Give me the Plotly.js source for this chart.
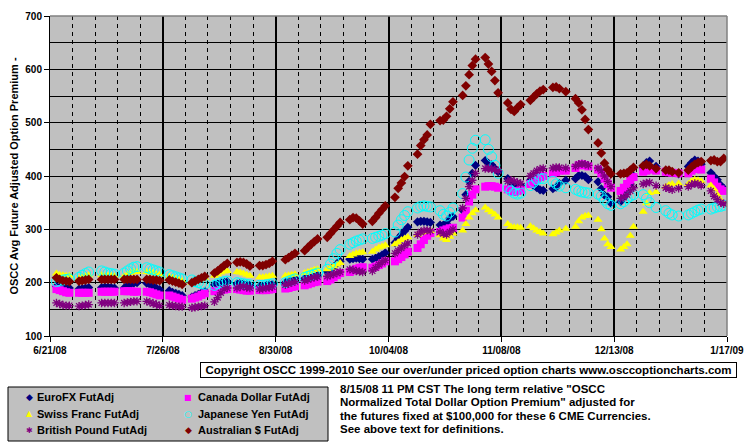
<!DOCTYPE html>
<html>
<head>
<meta charset="utf-8">
<script src="https://cdn.plot.ly/plotly-3.0.1.min.js"></script>
<style>
html,body{margin:0;padding:0;background:#fff;}
#chart{width:755px;height:446px;}
</style>
</head>
<body>
<div id="chart"></div>
<script>
// Trading dates (x values)
const dates = [
'2008-06-23','2008-06-24','2008-06-25','2008-06-26','2008-06-27',
'2008-06-30','2008-07-01','2008-07-02','2008-07-03',
'2008-07-07','2008-07-08','2008-07-09','2008-07-10','2008-07-11',
'2008-07-14','2008-07-15','2008-07-16','2008-07-17','2008-07-18',
'2008-07-21','2008-07-22','2008-07-23','2008-07-24','2008-07-25',
'2008-07-28','2008-07-29','2008-07-30','2008-07-31','2008-08-01',
'2008-08-04','2008-08-05','2008-08-06','2008-08-07','2008-08-08',
'2008-08-11','2008-08-12','2008-08-13','2008-08-14','2008-08-15',
'2008-08-18','2008-08-19','2008-08-20','2008-08-21','2008-08-22',
'2008-08-25','2008-08-26','2008-08-27','2008-08-28','2008-08-29',
'2008-09-02','2008-09-03','2008-09-04','2008-09-05',
'2008-09-08','2008-09-09','2008-09-10','2008-09-11','2008-09-12',
'2008-09-15','2008-09-16','2008-09-17','2008-09-18','2008-09-19',
'2008-09-22','2008-09-23','2008-09-24','2008-09-25','2008-09-26',
'2008-09-29','2008-09-30','2008-10-01','2008-10-02','2008-10-03',
'2008-10-06','2008-10-07','2008-10-08','2008-10-09','2008-10-10',
'2008-10-13','2008-10-14','2008-10-15','2008-10-16','2008-10-17',
'2008-10-20','2008-10-21','2008-10-22','2008-10-23','2008-10-24',
'2008-10-27','2008-10-28','2008-10-29','2008-10-30','2008-10-31',
'2008-11-03','2008-11-04','2008-11-05','2008-11-06','2008-11-07',
'2008-11-10','2008-11-11','2008-11-12','2008-11-13','2008-11-14',
'2008-11-17','2008-11-18','2008-11-19','2008-11-20','2008-11-21',
'2008-11-24','2008-11-25','2008-11-26','2008-11-28',
'2008-12-01','2008-12-02','2008-12-03','2008-12-04','2008-12-05',
'2008-12-08','2008-12-09','2008-12-10','2008-12-11','2008-12-12',
'2008-12-15','2008-12-16','2008-12-17','2008-12-18','2008-12-19',
'2008-12-22','2008-12-23','2008-12-24','2008-12-26',
'2008-12-29','2008-12-30','2008-12-31','2009-01-02',
'2009-01-05','2009-01-06','2009-01-07','2009-01-08','2009-01-09',
'2009-01-12','2009-01-13','2009-01-14','2009-01-15','2009-01-16'
];

const euroFX = [
193,192,191,190,190, 188,189,190,191, 191,192,192,191,190, 190,194,197,199,200, 199,196,193,190,187,
185,182,180,178,176, 173,176,178,181,184, 196,198,200,201,202, 198,199,198,196,195, 193,194,195,196,197,
200,203,206,208, 208,210,212,213,214, 220,225,230,236,240, 244,245,246,245,244, 244,246,249,252,256,
275,283,290,297,304, 314,315,315,314,313, 308,308,311,321,324, 336,365,390,405,420, 429,424,421,414,408,
395,388,385,383,382, 392,382,378,374,373, 376,379,386,392, 395,401,401,399,393, 389,376,364,361,349,
352,360,370,385,400, 415,425,428,418, 410,409,406,404, 418,425,430,428,422, 406,399,393,383,377
];
const canadaDollar = [
188,186,184,182,181, 181,181,181,181, 183,183,183,183,183, 184,184,184,183,183, 183,182,180,178,176,
176,174,172,170,168, 170,172,174,177,180, 184,185,186,187,188, 188,187,186,185,185, 186,186,186,187,188,
189,190,192,193, 195,197,199,201,202, 203,206,210,214,218, 220,223,226,228,229, 228,230,233,236,240,
240,244,248,253,258, 265,272,280,288,293, 295,298,300,302,303, 322,335,352,365,375, 380,381,381,380,378,
375,372,370,372,374, 385,390,395,398,400, 405,407,410,410, 415,420,422,420,418, 412,405,395,385,378,
372,378,385,392,398, 408,410,412,410, 408,407,406,405, 405,410,413,413,412, 395,388,380,375,372
];
const swissFranc = [
217,215,214,213,213, 208,210,212,214, 214,212,213,213,212, 212,215,218,220,220, 220,219,218,216,215,
211,209,207,205,203, 200,203,205,207,209, 213,216,219,221,222, 220,219,217,215,213, 210,210,211,212,213,
213,214,215,216, 218,220,222,224,225, 225,228,231,234,237, 250,253,255,256,257, 258,262,266,268,270,
272,276,280,283,285, 290,293,295,296,297, 289,283,280,286,292, 298,310,322,330,336, 341,336,332,328,322,
310,305,304,304,303, 306,302,298,295,292, 291,294,298,301, 305,315,322,325,326, 318,300,283,272,267,
262,267,272,288,305, 333,349,368,370, 380,383,385,386, 385,390,393,392,390, 382,375,365,355,347
];
const japaneseYen = [
202,203,205,206,207, 210,214,217,220, 222,220,218,217,216, 218,222,226,229,230, 228,226,224,222,220,
215,213,211,209,207, 205,202,200,198,197, 195,198,200,202,203, 200,199,198,197,196, 195,195,196,197,198,
200,203,205,207, 210,212,214,216,218, 225,235,245,255,262, 272,275,278,280,282, 283,285,287,289,292,
295,308,318,326,333, 340,343,344,343,342, 335,328,325,332,340, 367,398,430,452,467, 468,450,436,420,405,
378,372,368,366,368, 382,388,393,395,395, 390,385,381,378, 375,372,370,369,368, 366,362,355,348,345,
348,352,358,362,365, 365,358,350,341, 335,330,327,325, 327,330,333,336,338, 338,340,342,343,345
];
const britishPound = [
162,160,158,157,157, 156,157,158,159, 162,162,162,162,162, 162,163,164,165,165, 165,163,161,159,157,
158,157,156,155,155, 153,154,155,156,157, 164,172,181,188,190, 190,192,193,191,190, 188,189,190,191,192,
196,198,200,202, 204,206,208,210,211, 212,214,216,218,220, 225,224,222,221,220, 222,228,234,238,242,
255,260,265,270,274, 290,295,298,298,297, 295,292,290,295,300, 340,358,380,392,405, 414,414,413,412,410,
390,392,390,388,386, 400,405,410,413,414, 415,416,416,415, 418,422,423,422,420, 415,410,400,390,380,
358,360,365,372,378, 385,387,388,382, 378,376,374,377, 380,384,386,385,382, 372,362,356,350,348
];
const australianDollar = [
209,206,204,203,202, 203,204,205,206, 206,206,206,206,206, 206,206,206,206,206, 206,206,205,205,204,
205,203,201,199,197, 200,203,206,209,212, 218,222,227,232,236, 238,239,238,235,231, 232,232,234,236,240,
243,247,251,255, 260,266,272,277,282, 285,292,299,306,313, 318,322,321,316,310, 315,322,330,337,344,
360,377,387,399,419, 441,457,468,477,497, 504,505,512,526,539, 551,569,590,607,619, 622,610,596,579,556,
537,525,521,528,534, 542,548,554,559,562, 566,567,564,558, 545,537,524,506,487, 462,443,424,412,404,
404,405,406,411,416, 419,422,419,414, 411,411,408,406, 411,417,422,425,427, 429,430,427,427,433
];

const seriesNames = ['EuroFX FutAdj','Canada Dollar FutAdj','Swiss Franc FutAdj','Japanese Yen FutAdj','British Pound FutAdj','Australian $ FutAdj'];
const legendGlyphs = ['\u25C6','\u25A0','\u25B2','\u25CB','\u2731','\u25C6'];
const yTitle = 'OSCC Avg Future Adjusted Option Premium -';
const copyrightText = 'Copyright OSCC 1999-2010 See our over/under priced option charts www.osccoptioncharts.com';
const noteLines = [
  '8/15/08 11 PM CST The long term relative "OSCC',
  'Normalized Total Dollar Option Premium" adjusted for',
  'the futures fixed at $100,000 for these 6 CME Currencies.',
  'See above text for definitions.'
];

const FONT = 'Liberation Sans, Arial, sans-serif';
const DAY = 86400000;
const colors = ['#000080','#FF00FF','#FFFF00','#00FFFF','#800080','#800000'];

const styles = [
  {symbol:'diamond', size:7, color:colors[0], line:{width:0}},
  {symbol:'square', size:8, color:colors[1], line:{width:0}},
  {symbol:'triangle-up', size:8, color:colors[2], line:{width:0}},
  {symbol:'circle-open', size:10, color:colors[3], line:{width:1, color:colors[3]}},
  {symbol:'asterisk-open', size:7, color:colors[4], line:{width:1.3, color:colors[4]}},
  {symbol:'diamond', size:7.5, color:colors[5], line:{width:0}}
];
const values = [euroFX, canadaDollar, swissFranc, japaneseYen, britishPound, australianDollar];

const traces = values.map((v, i) => ({
  type:'scatter', mode:'markers', x: dates, y: v, name: seriesNames[i],
  marker: styles[i], cliponaxis: true, showlegend:false
}));

// pixel -> paper helpers (plot area x 50..727, y 16..336)
const px = p => (p - 50) / 677;
const py = p => (336 - p) / 320;

const noteY = [389, 402.3, 415.7, 429];
const annotations = [
  {text: copyrightText, xref:'paper', yref:'paper', x:px(468.5), y:py(370),
   xanchor:'center', yanchor:'middle', showarrow:false, bordercolor:'#000', borderwidth:1,
   borderpad:1, width:533, height:12, font:{family:FONT, size:11.5, color:'#000', weight:700}}
].concat(noteLines.map((t, i) => ({
  text: t, xref:'paper', yref:'paper', x:px(339), y:py(noteY[i]),
  xanchor:'left', yanchor:'middle', showarrow:false, borderpad:0,
  font:{family:FONT, size:11.5, color:'#000', weight:700}
})));

// legend entries (two columns, three rows)
const legCol = [{m:29, t:36}, {m:188, t:197}];
const legRow = [397, 413.5, 430];
const glyphSize = [9, 8, 8, 9, 8, 9];
seriesNames.forEach((name, i) => {
  const c = legCol[i % 2], r = legRow[Math.floor(i / 2)];
  annotations.push({text: legendGlyphs[i], xref:'paper', yref:'paper', x:px(c.m), y:py(r),
    xanchor:'center', yanchor:'middle', showarrow:false, borderpad:0,
    font:{family:'DejaVu Sans', size:glyphSize[i], color:colors[i]}});
  annotations.push({text: name, xref:'paper', yref:'paper', x:px(c.t), y:py(r),
    xanchor:'left', yanchor:'middle', showarrow:false, borderpad:0,
    font:{family:FONT, size:11, color:'#000', weight:700}});
});

const layout = {
  width:755, height:446,
  margin:{l:50, r:28, t:16, b:110, autoexpand:false},
  paper_bgcolor:'#ffffff', plot_bgcolor:'#C0C0C0',
  font:{family:FONT, color:'#000'},
  showlegend:false,
  xaxis:{type:'date', range:['2008-06-21','2009-01-17'], autorange:false,
    tick0:'2008-06-21', dtick:35*DAY, tickformat:'%-m/%d/%y',
    showgrid:true, gridcolor:'#000', gridwidth:2,
    ticks:'outside', ticklen:5, tickcolor:'#000',
    showline:true, linecolor:'#000', linewidth:1, zeroline:false,
    tickfont:{family:FONT, size:10, color:'#000', weight:700},
    minor:{tick0:'2008-06-21', dtick:7*DAY, showgrid:true, gridcolor:'#000', gridwidth:1, griddash:'4px,4px', ticks:''}
  },
  yaxis:{range:[100,700], autorange:false, dtick:100, tick0:0,
    showgrid:true, gridcolor:'#000', gridwidth:1,
    ticks:'outside', ticklen:5, tickcolor:'#000',
    showline:true, linecolor:'#000', linewidth:1, zeroline:false,
    tickfont:{family:FONT, size:10, color:'#000', weight:700},
    minor:{dtick:50, showgrid:true, gridcolor:'#000', gridwidth:1, ticks:''},
    title:{text:yTitle, standoff:4, font:{family:FONT, size:11, color:'#000', weight:700}}
  },
  shapes:[
    {type:'line', xref:'paper', yref:'paper', x0:0, x1:1, y0:1, y1:1, line:{color:'#808080', width:1.5}, layer:'above'},
    {type:'line', xref:'paper', yref:'paper', x0:1, x1:1, y0:0, y1:1, line:{color:'#808080', width:1.5}, layer:'above'},
    {type:'rect', xref:'paper', yref:'paper', x0:px(8), x1:px(328), y0:py(387), y1:py(441),
     fillcolor:'#C0C0C0', line:{color:'#000', width:1}, layer:'below'}
  ],
  annotations: annotations
};

Plotly.newPlot('chart', traces, layout, {displayModeBar:false, staticPlot:true});
</script>
</body>
</html>
